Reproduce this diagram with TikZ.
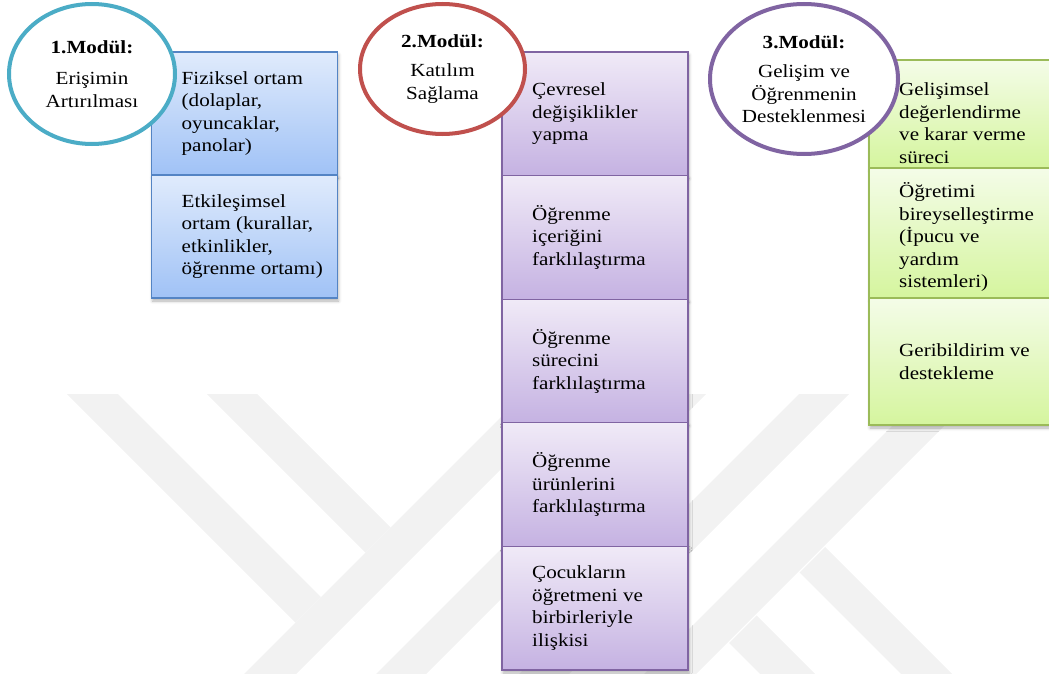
\documentclass[tikz,border=0pt]{standalone}
\usepackage{fontspec}
\setmainfont{Liberation Serif}[FakeStretch=1.14]
\definecolor{teal-ring}{RGB}{75,172,198}
\definecolor{brick-ring}{RGB}{192,80,77}
\definecolor{violet-ring}{RGB}{128,100,162}
\definecolor{blue-edge}{RGB}{84,132,196}
\definecolor{blue-top}{RGB}{224,235,252}
\definecolor{blue-bottom}{RGB}{160,194,246}
\definecolor{violet-edge}{RGB}{128,100,162}
\definecolor{violet-top}{RGB}{240,234,247}
\definecolor{violet-bottom}{RGB}{197,178,226}
\definecolor{green-edge}{RGB}{155,187,89}
\definecolor{green-top}{RGB}{244,252,232}
\definecolor{green-bottom}{RGB}{213,245,158}
\usetikzlibrary{positioning}
\usetikzlibrary{shapes.geometric}
\usetikzlibrary{shadows.blur}

\begin{document}
\begin{tikzpicture}[%
    x=1pt, y=-1pt,
    module/.style={%
      ellipse,
      draw,
      line width=4pt,
      fill=white,
      inner sep=0pt,
      align=center,
      font=\fontsize{18.5}{22.5}\selectfont,
    },
    cell/.style={%
      rectangle,
      draw,
      line width=1.3pt,
      minimum width=186pt,
      inner sep=0pt,
      outer sep=0pt,
      blur shadow={shadow xshift=1pt, shadow yshift=-3pt, shadow blur radius=3pt, shadow opacity=30},
    },
    access cell/.style={cell, draw=blue-edge, top color=blue-top, bottom color=blue-bottom, minimum height=123pt},
    join cell/.style={cell, draw=violet-edge, top color=violet-top, bottom color=violet-bottom, minimum height=123.6pt},
    growth cell/.style={cell, draw=green-edge, top color=green-top, bottom color=green-bottom},
    celltext/.style={%
      anchor=west,
      align=left,
      inner sep=0pt,
      xshift=30pt,
      font=\fontsize{18.5}{22.5}\selectfont,
    },
    watermark/.style={fill=black!5},
  ]
  \useasboundingbox (0,0) rectangle (1049,674);
  \clip (0,0) rectangle (1049,674);

  \fill [watermark] (67,394) -- (118,394) -- (321,597) -- (295.5,622.5) -- cycle;
  \fill [watermark] (207,394) -- (257,394) -- (390.5,527.5) -- (365.5,552.5) -- cycle;
  \fill [watermark] (244,674) -- (296,674) -- (576,394) -- (524,394) -- cycle;
  \fill [watermark] (376,674) -- (426,674) -- (706,394) -- (656,394) -- cycle;
  \fill [watermark] (519,674) -- (569,674) -- (849,394) -- (799,394) -- cycle;
  \fill [watermark] (644,674) -- (696,674) -- (976,394) -- (924,394) -- cycle;
  \fill [watermark] (799.5,572.5) -- (825,547) -- (952,674) -- (901,674) -- cycle;
  \fill [watermark] (729,643) -- (756.5,615.5) -- (815,674) -- (760,674) -- cycle;

  \node [access cell] (access a) at (244.5,113.5) {};
  \node [access cell, below=0pt of access a] (access b) {};
  \node [celltext] (access a text) at (access a.west) {Fiziksel ortam\\(dolaplar,\\oyuncaklar,\\panolar)};
  \node [celltext] (access b text) at (access b.west) {Etkileşimsel\\ortam (kurallar,\\etkinlikler,\\öğrenme ortamı)};

  \node [join cell] (join a) at (595,113.8) {};
  \node [join cell, below=0pt of join a] (join b) {};
  \node [join cell, below=0pt of join b] (join c) {};
  \node [join cell, below=0pt of join c] (join d) {};
  \node [join cell, below=0pt of join d] (join e) {};
  \node [celltext] (join a text) at (join a.west) {Çevresel\\değişiklikler\\yapma};
  \node [celltext] (join b text) at (join b.west) {Öğrenme\\içeriğini\\farklılaştırma};
  \node [celltext] (join c text) at (join c.west) {Öğrenme\\sürecini\\farklılaştırma};
  \node [celltext] (join d text) at (join d.west) {Öğrenme\\ürünlerini\\farklılaştırma};
  \node [celltext] (join e text) at (join e.west) {Çocukların\\öğretmeni ve\\birbirleriyle\\ilişkisi};

  \node [growth cell, minimum height=108pt] (growth a) at (962,114) {};
  \node [growth cell, minimum height=130pt, below=0pt of growth a] (growth b) {};
  \node [growth cell, minimum height=127pt, below=0pt of growth b] (growth c) {};
  \node [celltext, yshift=-9pt] (growth a text) at (growth a.west) {Gelişimsel\\değerlendirme\\ve karar verme\\süreci};
  \node [celltext, yshift=-4pt] (growth b text) at (growth b.west) {Öğretimi\\bireyselleştirme\\(İpucu ve\\yardım\\sistemleri)};
  \node [celltext] (growth c text) at (growth c.west) {Geribildirim ve\\destekleme};

  \node [module, draw=teal-ring, minimum width=166pt, minimum height=140pt] (module one) at (92,74)
    {\textbf{1.Modül:}\\[9pt]Erişimin\\Artırılması};
  \node [module, draw=brick-ring, minimum width=165pt, minimum height=130pt] (module two) at (442.5,69)
    {\textbf{2.Modül:}\\[7pt]Katılım\\Sağlama};
  \node [module, draw=violet-ring, minimum width=188pt, minimum height=150pt] (module three) at (804,79)
    {\textbf{3.Modül:}\\[7pt]Gelişim ve\\Öğrenmenin\\Desteklenmesi};
\end{tikzpicture}
\end{document}
